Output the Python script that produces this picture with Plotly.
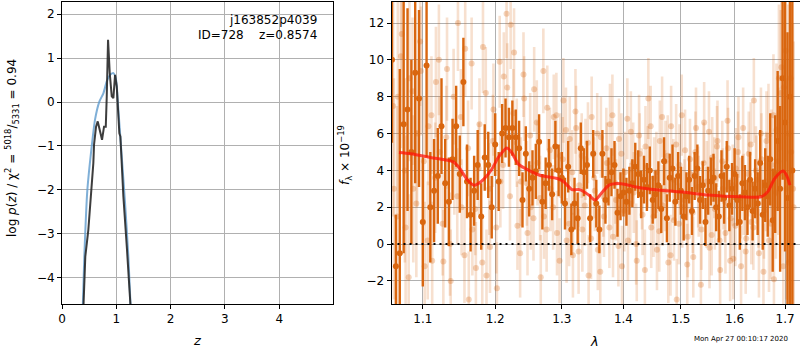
import plotly.graph_objects as go
import math

# ---------------- left panel: p(z) ----------------
pz_model_z = [0.381, 0.411, 0.467, 0.547, 0.608, 0.688, 0.762, 0.824, 0.885, 0.946, 0.995, 1.038, 1.100, 1.161, 1.222, 1.266]
pz_model_v = [-4.73, -3.52, -2.00, -1.01, -0.40, 0.01, 0.20, 0.47, 0.62, 0.66, 0.51, -0.18, -1.24, -2.30, -3.52, -4.73]

pz_data_z = [0.393, 0.429, 0.485, 0.535, 0.577, 0.590, 0.627, 0.658, 0.700, 0.737, 0.774, 0.806, 0.824, 0.848,
             0.879, 0.916, 0.946, 0.977, 1.008, 1.038, 1.056, 1.075, 1.088, 1.130, 1.193, 1.266]
pz_data_v = [-4.73, -3.52, -2.91, -2.15, -1.39, -0.97, -0.56, -0.44, -0.63, -0.86, -0.56, -0.56, 0.13, 1.42,
             0.66, 0.13, 0.09, 0.62, 0.36, -0.25, -0.71, -0.78, -1.09, -2.15, -3.29, -4.73]

left_xticks = [0, 1, 2, 3, 4]
left_yticks = [-4, -3, -2, -1, 0, 1, 2]

# ---------------- right panel: spectrum ----------------
dark_wave = [1.060, 1.065, 1.070, 1.075, 1.080, 1.085, 1.090, 1.095, 1.100, 1.105,
             1.110, 1.115, 1.120, 1.125, 1.130, 1.135, 1.140, 1.145, 1.150, 1.155,
             1.160, 1.165, 1.170, 1.175, 1.180, 1.185, 1.190, 1.195, 1.200, 1.205,
             1.210, 1.215, 1.220, 1.225, 1.230, 1.235, 1.240, 1.245, 1.250, 1.255,
             1.260, 1.265, 1.270, 1.275, 1.280, 1.285, 1.290, 1.295, 1.300, 1.305,
             1.310, 1.315, 1.320, 1.325, 1.330, 1.335, 1.340, 1.345, 1.350, 1.355,
             1.360, 1.365, 1.370, 1.375, 1.380, 1.385, 1.390, 1.395, 1.400, 1.405,
             1.410, 1.415, 1.420, 1.425, 1.430, 1.435, 1.440, 1.445, 1.450, 1.455,
             1.460, 1.465, 1.470, 1.475, 1.480, 1.485, 1.490, 1.495, 1.500, 1.505,
             1.510, 1.515, 1.520, 1.525, 1.530, 1.535, 1.540, 1.545, 1.550, 1.555,
             1.560, 1.565, 1.570, 1.575, 1.580, 1.585, 1.590, 1.595, 1.600, 1.605,
             1.610, 1.615, 1.620, 1.625, 1.630, 1.635, 1.640, 1.645, 1.650, 1.655,
             1.660, 1.665, 1.670, 1.675, 1.680, 1.685, 1.690, 1.695, 1.700, 1.705,
             1.710, 1.715]
dark_flux = [10.0, -1.2, -0.5, 6.5, 7.3, 5.0, 9.3, 7.9, 1.2, 9.7,
             2.0, 2.9, 3.7, 6.4, 3.3, 2.3, 4.6, 6.4, 3.8, 8.8,
             3.4, 1.6, 2.9, 4.3, 1.5, 4.7, 4.3, 2.0, 5.4, 3.4,
             6.0, 6.3, 5.8, 6.3, 5.8, 5.2, 2.4, 4.9, 3.0, 3.6,
             3.95, 5.55, 2.3, 3.3, 4.3, 2.7, 5.3, 4.0, 3.6, 2.2,
             4.2, 0.8, 2.2, 1.4, 5.2, 3.9, 4.3, 1.4, 4.9, 2.2,
             0.8, 4.9, 2.4, 3.4, 3.9, 4.3, 1.7, 2.6, 2.8, 2.3,
             2.9, 3.3, 4.2, 3.8, 2.7, 3.5, 3.1, 4.0, 2.4, 2.7,
             3.2, 1.9, 4.5, 1.4, 3.6, 4.1, 2.3, 3.7, 2.9, 1.5,
             2.6, 3.5, 1.8, 3.7, 4.1, 2.4, 3.2, 1.2, 2.9, 3.4,
             3.6, 2.0, 1.5, 3.7, 2.5, 4.2, 2.1, 3.0, 3.8, 2.4,
             1.2, 3.3, 2.8, 2.0, 3.5, 1.8, 3.0, 2.2, 4.4, 1.6,
             3.2, 2.6, 4.6, 1.3, 3.8, 5.6, 3.0, 9.0, 6.6, 2.5,
             8.0, 4.0]
dark_err = [4.5, 2.8, 10.0, 7.0, 5.5, 5.0, 6.0, 4.8, 3.5, 5.0,
            3.0, 2.8, 2.6, 2.6, 2.4, 2.4, 2.2, 2.2, 2.1, 2.4,
            2.0, 2.0, 1.9, 1.9, 1.8, 1.8, 1.8, 1.7, 1.7, 1.6,
            1.6, 1.6, 1.6, 1.5, 1.5, 1.5, 1.5, 1.5, 1.5, 1.5,
            1.5, 1.5, 1.5, 1.4, 1.4, 1.4, 1.4, 1.4, 1.4, 1.4,
            1.4, 1.4, 1.4, 1.4, 1.4, 1.3, 1.3, 1.3, 1.3, 1.3,
            1.3, 1.3, 1.3, 1.3, 1.3, 1.3, 1.3, 1.3, 1.3, 1.3,
            1.3, 1.3, 1.3, 1.3, 1.3, 1.3, 1.3, 1.3, 1.3, 1.3,
            1.3, 1.3, 1.3, 1.3, 1.3, 1.3, 1.3, 1.3, 1.3, 1.3,
            1.3, 1.3, 1.3, 1.3, 1.3, 1.3, 1.3, 1.3, 1.3, 1.3,
            1.3, 1.3, 1.4, 1.4, 1.4, 1.4, 1.4, 1.4, 1.4, 1.4,
            1.5, 1.5, 1.5, 1.5, 1.5, 1.6, 1.6, 1.7, 1.8, 1.9,
            2.0, 2.2, 2.5, 2.8, 3.2, 3.8, 4.5, 5.5, 7.0, 9.0,
            12.0, 14.0]

light_wave = [1.0625, 1.0675, 1.0725, 1.0775, 1.0825, 1.0875, 1.0925, 1.0975, 1.1025, 1.1075,
              1.1125, 1.1175, 1.1225, 1.1275, 1.1325, 1.1375, 1.1425, 1.1475, 1.1525, 1.1575,
              1.1625, 1.1675, 1.1725, 1.1775, 1.1825, 1.1875, 1.1925, 1.1975, 1.2025, 1.2075,
              1.2125, 1.2175, 1.2225, 1.2275, 1.2325, 1.2375, 1.2425, 1.2475, 1.2525, 1.2575,
              1.2625, 1.2675, 1.2725, 1.2775, 1.2825, 1.2875, 1.2925, 1.2975, 1.3025, 1.3075,
              1.3125, 1.3175, 1.3225, 1.3275, 1.3325, 1.3375, 1.3425, 1.3475, 1.3525, 1.3575,
              1.3625, 1.3675, 1.3725, 1.3775, 1.3825, 1.3875, 1.3925, 1.3975, 1.4025, 1.4075,
              1.4125, 1.4175, 1.4225, 1.4275, 1.4325, 1.4375, 1.4425, 1.4475, 1.4525, 1.4575,
              1.4625, 1.4675, 1.4725, 1.4775, 1.4825, 1.4875, 1.4925, 1.4975, 1.5025, 1.5075,
              1.5125, 1.5175, 1.5225, 1.5275, 1.5325, 1.5375, 1.5425, 1.5475, 1.5525, 1.5575,
              1.5625, 1.5675, 1.5725, 1.5775, 1.5825, 1.5875, 1.5925, 1.5975, 1.6025, 1.6075,
              1.6125, 1.6175, 1.6225, 1.6275, 1.6325, 1.6375, 1.6425, 1.6475, 1.6525, 1.6575,
              1.6625, 1.6675, 1.6725, 1.6775, 1.6825, 1.6875, 1.6925, 1.6975, 1.7025, 1.7075,
              1.7125, 1.7175]
light_flux = [3.0, 8.0, 11.4, 0.9, 9.0, 3.0, 6.0, 9.4, -1.2, 6.4,
              -0.9, 8.8, 5.0, -0.95, 9.5, -2.0, 4.2, 12.0, 2.0, 10.6,
              -3.0, 0.8, -1.3, 6.5, 10.7, -1.7, -0.15, 7.3, -2.4, 3.4,
              9.1, 8.5, 11.9, 10.4, 1.0, 3.4, 7.9, 0.6, 2.0, 8.4,
              4.4, -1.8, 1.5, 7.4, 3.0, 6.9, 0.6, 4.8, 7.8, 0.2,
              5.7, -0.6, 6.3, 3.2, 0.8, 4.6, -1.7, 6.9, 2.9, -0.3,
              5.8, 1.5, 4.4, 6.5, 0.4, 2.4, 5.7, -1.2, 3.9, 0.2,
              6.1, 2.8, -0.9, 4.9, 1.6, 5.3, 7.9, 0.9, 3.6, -0.3,
              5.6, 2.1, 4.5, -1.0, 6.4, 1.3, -3.0, 4.3, 2.0, 5.1,
              0.4, 3.8, -0.7, 6.3, 2.6, 0.8, 6.6, 3.4, -0.2, 4.7,
              1.9, 5.6, -1.4, 3.0, 0.6, 5.2, 1.4, -0.8, 4.1, 5.8,
              -1.2, 2.7, 0.3, 4.9, 1.2, 7.8, 3.5, -0.5, 4.6, 1.8,
              5.6, 0.2, 4.3, -1.9, 6.2, 9.0, 9.6, 8.5, 3.0, -1.0,
              5.0, 2.0]
light_err = [6.0, 6.0, 5.0, 5.0, 4.5, 4.0, 4.0, 3.5, 3.5, 3.2,
             3.2, 3.0, 3.0, 2.8, 2.8, 2.8, 2.6, 2.6, 2.6, 2.6,
             2.6, 2.5, 2.5, 2.5, 2.5, 2.5, 2.5, 2.5, 2.5, 2.5,
             2.4, 2.4, 2.4, 2.4, 2.4, 2.4, 2.3, 2.3, 2.3, 2.3,
             2.3, 2.3, 2.3, 2.3, 2.3, 2.3, 2.3, 2.3, 2.3, 2.3,
             2.3, 2.3, 2.3, 2.3, 2.3, 2.2, 2.2, 2.2, 2.2, 2.2,
             2.2, 2.2, 2.2, 2.2, 2.2, 2.2, 2.2, 2.2, 2.2, 2.2,
             2.2, 2.2, 2.2, 2.2, 2.2, 2.2, 2.2, 2.2, 2.2, 2.2,
             2.2, 2.2, 2.2, 2.2, 2.2, 2.2, 2.2, 2.2, 2.2, 2.2,
             2.2, 2.2, 2.2, 2.2, 2.2, 2.2, 2.2, 2.2, 2.2, 2.2,
             2.2, 2.2, 2.2, 2.2, 2.2, 2.2, 2.2, 2.2, 2.2, 2.2,
             2.2, 2.2, 2.3, 2.3, 2.3, 2.3, 2.4, 2.4, 2.5, 2.6,
             2.7, 2.8, 3.0, 3.3, 3.6, 4.0, 4.5, 5.0, 6.0, 7.0,
             8.0, 9.0]

light2_wave = [1.0615, 1.0665, 1.0715, 1.0765, 1.0815, 1.0865, 1.0915, 1.0965, 1.1015, 1.1065,
               1.1115, 1.1165, 1.1215, 1.1265, 1.1315, 1.1365, 1.1415, 1.1465, 1.1515, 1.1565,
               1.1615, 1.1665, 1.1715, 1.1765, 1.1815, 1.1865, 1.1915, 1.1965, 1.2015, 1.2065,
               1.2115, 1.2165, 1.2215, 1.2265, 1.2315, 1.2365, 1.2415, 1.2465, 1.2515, 1.2565,
               1.2615, 1.2665, 1.2715, 1.2765, 1.2815, 1.2865, 1.2915, 1.2965, 1.3015, 1.3065,
               1.3115, 1.3165, 1.3215, 1.3265, 1.3315, 1.3365, 1.3415, 1.3465, 1.3515, 1.3565,
               1.3615, 1.3665, 1.3715, 1.3765, 1.3815, 1.3865, 1.3915, 1.3965, 1.4015, 1.4065,
               1.4115, 1.4165, 1.4215, 1.4265, 1.4315, 1.4365, 1.4415, 1.4465, 1.4515, 1.4565,
               1.4615, 1.4665, 1.4715, 1.4765, 1.4815, 1.4865, 1.4915, 1.4965, 1.5015, 1.5065,
               1.5115, 1.5165, 1.5215, 1.5265, 1.5315, 1.5365, 1.5415, 1.5465, 1.5515, 1.5565,
               1.5615, 1.5665, 1.5715, 1.5765, 1.5815, 1.5865, 1.5915, 1.5965, 1.6015, 1.6065,
               1.6115, 1.6165, 1.6215, 1.6265, 1.6315, 1.6365, 1.6415, 1.6465, 1.6515, 1.6565,
               1.6615, 1.6665, 1.6715, 1.6765, 1.6815, 1.6865, 1.6915, 1.6965, 1.7015, 1.7065,
               1.7115, 1.7165]
light2_flux = [7.5, 1.5, 10.2, 4.0, -1.8, 8.3, 2.2, 11.0, 4.5, 0.2,
               7.0, 3.6, 10.0, 1.1, 5.8, 0.0, 8.0, 2.6, 6.9, -0.6,
               5.2, 9.8, 1.9, 4.1, -1.0, 8.2, 3.0, 5.6, 0.9, 9.9,
               4.3, 12.5, 2.6, 7.1, 5.5, -0.5, 9.2, 3.3, 5.9, 1.4,
               6.6, 2.5, 9.4, 0.8, 5.1, 2.0, 7.0, -0.9, 4.6, 6.2,
               1.1, 3.9, 7.2, -0.4, 4.8, 2.1, 5.5, 0.3, 3.6, 6.0,
               -1.5, 2.6, 5.2, 0.9, 7.0, 3.3, -0.1, 4.9, 1.8, 6.8,
               2.2, 4.4, 0.0, 5.9, 3.0, -1.4, 4.2, 6.4, 1.5, 3.9,
               0.7, 6.9, 2.9, 4.8, -0.6, 3.5, 5.4, 1.1, 7.0, 2.4,
               -1.1, 4.6, 1.7, 5.0, 3.1, -2.2, 4.4, 2.0, 6.1, 0.5,
               3.6, 5.3, 0.2, 4.5, 2.3, 6.7, -0.9, 3.2, 1.0, 5.0,
               2.5, 6.3, -0.4, 3.8, 5.4, 0.9, 4.0, 2.2, 6.0, -1.5,
               3.4, 5.9, 1.1, 7.0, 2.8, 4.5, 8.2, -1.2, 10.5, 6.0,
               9.0, 3.0]

model_wave = [1.069, 1.084, 1.110, 1.141, 1.150, 1.161, 1.170, 1.180, 1.194, 1.205, 1.217, 1.224,
              1.234, 1.246, 1.266, 1.293, 1.303, 1.316, 1.328, 1.343, 1.353, 1.363, 1.376, 1.388,
              1.404, 1.419, 1.446, 1.498, 1.550, 1.580, 1.612, 1.652, 1.665, 1.679, 1.696, 1.703, 1.710]
model_flux = [4.97, 4.90, 4.70, 4.46, 4.10, 3.47, 3.20, 3.40, 4.00, 4.73, 5.22, 4.97,
              4.34, 4.07, 3.74, 3.56, 3.38, 2.96, 2.96, 2.66, 2.39, 2.75, 3.20, 3.29,
              3.24, 3.11, 2.98, 2.84, 2.66, 2.60, 2.57, 2.57, 2.84, 3.56, 3.97, 3.74, 3.20]

right_xticks = [1.1, 1.2, 1.3, 1.4, 1.5, 1.6, 1.7]
right_xtext = ["1.1", "1.2", "1.3", "1.4", "1.5", "1.6", "1.7"]
right_yticks = [-2, 0, 2, 4, 6, 8, 10, 12]

ORANGE = "rgb(217,102,15)"
LIGHT_BAR = "rgba(217,102,15,0.2)"
LIGHT_DOT = "rgba(217,102,15,0.28)"
FONT = "DejaVu Sans"

fig = go.Figure()

# left panel curves
fig.add_trace(go.Scatter(x=pz_model_z, y=pz_model_v, mode="lines", xaxis="x", yaxis="y",
                         line=dict(color="rgba(95,155,205,0.8)", width=2, shape="spline", smoothing=0.6),
                         showlegend=False, hoverinfo="skip"))
fig.add_trace(go.Scatter(x=pz_data_z, y=pz_data_v, mode="lines", xaxis="x", yaxis="y",
                         line=dict(color="rgba(40,40,40,0.9)", width=2),
                         showlegend=False, hoverinfo="skip"))

# right panel: light (individual) spectra
for wv, fl in [(light_wave, light_flux), (light2_wave, light2_flux)]:
    fig.add_trace(go.Scatter(x=wv, y=fl, mode="markers", xaxis="x2", yaxis="y2",
                             marker=dict(size=6, color=LIGHT_DOT, line=dict(width=0)),
                             error_y=dict(type="data", array=light_err, visible=True, thickness=2.6, width=0,
                                          color=LIGHT_BAR),
                             showlegend=False, hoverinfo="skip"))
# dark (combined) spectrum
fig.add_trace(go.Scatter(x=dark_wave, y=dark_flux, mode="markers", xaxis="x2", yaxis="y2",
                         marker=dict(size=6, color=ORANGE, line=dict(width=0)),
                         error_y=dict(type="data", array=dark_err, visible=True, thickness=2.4, width=0,
                                      color=ORANGE),
                         showlegend=False, hoverinfo="skip"))
# model
fig.add_trace(go.Scatter(x=model_wave, y=model_flux, mode="lines", xaxis="x2", yaxis="y2",
                         line=dict(color="rgba(255,20,10,0.75)", width=3, shape="spline", smoothing=0.8),
                         showlegend=False, hoverinfo="skip"))

fig.add_shape(type="line", xref="x2 domain", yref="y2", x0=0, x1=1, y0=0, y1=0,
              line=dict(color="black", width=2, dash="2px,4px"), layer="above")

axis_common = dict(showline=True, linecolor="black", linewidth=1, mirror=True,
                   ticks="outside", ticklen=4, tickwidth=1, tickcolor="black",
                   showgrid=True, gridcolor="#b0b0b0", gridwidth=1, zeroline=False,
                   tickfont=dict(family=FONT, size=12, color="black"), automargin=False)

fig.update_layout(
    width=800, height=350,
    margin=dict(l=0, r=0, t=2, b=46),
    paper_bgcolor="white", plot_bgcolor="white",
    template="none",
    xaxis=dict(domain=[62 / 800, 333 / 800], range=[0, 4.99], tickvals=left_xticks, anchor="y", **axis_common),
    yaxis=dict(domain=[0, 1], range=[-4.6, 2.28], tickvals=left_yticks, anchor="x", **axis_common),
    xaxis2=dict(domain=[391.5 / 800, 799.5 / 800], type="log",
                range=[math.log10(1.0594), math.log10(1.7298)],
                tickvals=right_xticks, ticktext=right_xtext, anchor="y2", **axis_common),
    yaxis2=dict(domain=[0, 1], range=[-3.25, 13.14], tickvals=right_yticks, anchor="x2", **axis_common),
)

ann_font = dict(family=FONT, size=12, color="black")
annotations = [
    dict(text="j163852p4039", xref="paper", yref="paper", x=319 / 800, y=1 - 20 / 302 + 2 / 302,
         xanchor="right", yanchor="middle", showarrow=False, font=ann_font),
    dict(text="ID=728\u00a0\u00a0\u00a0\u00a0z=0.8574", xref="paper", yref="paper", x=319 / 800,
         y=1 - 35 / 302 + 2 / 302, xanchor="right", yanchor="middle", showarrow=False, font=ann_font),
    dict(text="log <i>p</i>(<i>z</i>) / χ<sup>2</sup> = <sup>5018</sup>/<sub>5331</sub> = 0.94",
         xref="paper", yref="paper", x=12 / 800, y=(304 - 148) / 302, textangle=-90,
         xanchor="center", yanchor="middle", showarrow=False, font=ann_font),
    dict(text="<i>f</i><sub>λ</sub> × 10<sup>−19</sup>", xref="paper", yref="paper", x=345 / 800,
         y=(304 - 155) / 302, textangle=-90, xanchor="center", yanchor="middle", showarrow=False,
         font=ann_font),
    dict(text="<i>z</i>", xref="paper", yref="paper", x=197 / 800, y=(304 - 340) / 302,
         xanchor="center", yanchor="middle", showarrow=False, font=dict(family=FONT, size=13, color="black")),
    dict(text="<i>λ</i>", xref="paper", yref="paper", x=594 / 800, y=(304 - 341) / 302,
         xanchor="center", yanchor="middle", showarrow=False, font=dict(family=FONT, size=13, color="black")),
    dict(text="Mon Apr 27 00:10:17 2020", xref="paper", yref="paper", x=741 / 800, y=(304 - 339) / 302,
         xanchor="center", yanchor="middle", showarrow=False, font=dict(family=FONT, size=7, color="black")),
]
fig.update_layout(annotations=annotations)

fig.write_html("out.html", config={"displayModeBar": False},
               post_script="document.body.style.margin='0';document.body.style.padding='0';window.dispatchEvent(new Event('resize'));")
